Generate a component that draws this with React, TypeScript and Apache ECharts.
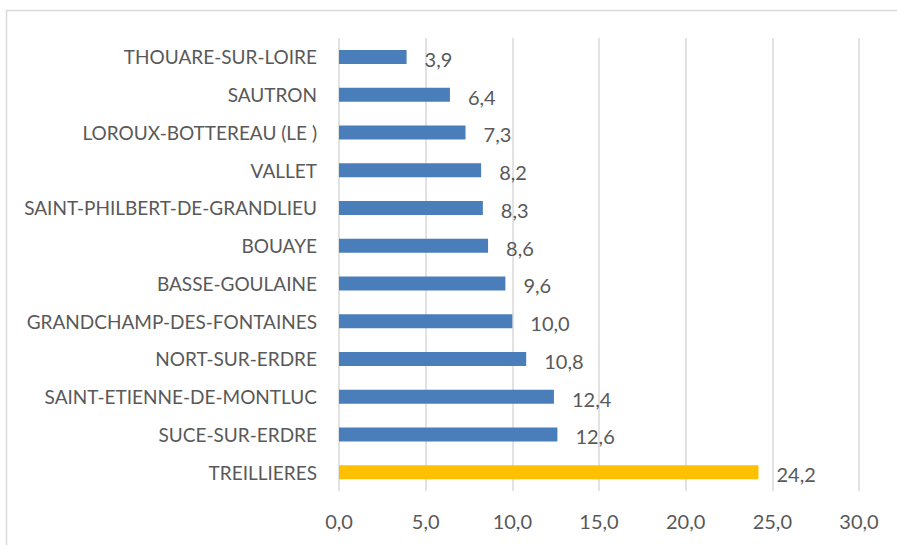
import React, { useEffect, useRef } from "react";
import * as echarts from "echarts";

const categories = [
  "TREILLIERES",
  "SUCE-SUR-ERDRE",
  "SAINT-ETIENNE-DE-MONTLUC",
  "NORT-SUR-ERDRE",
  "GRANDCHAMP-DES-FONTAINES",
  "BASSE-GOULAINE",
  "BOUAYE",
  "SAINT-PHILBERT-DE-GRANDLIEU",
  "VALLET",
  "LOROUX-BOTTEREAU (LE )",
  "SAUTRON",
  "THOUARE-SUR-LOIRE",
];
const values = [24.2, 12.6, 12.4, 10.8, 10.0, 9.6, 8.6, 8.3, 8.2, 7.3, 6.4, 3.9];
const highlighted = ["TREILLIERES"];

const BLUE = "#4A7EBB";
const YELLOW = "#FFC000";
const TEXT = "#595959";
const GRID = "#D9D9D9";
const FONT = "Lato";

const fmt = (v: number) => v.toFixed(1).replace(".", ",");

export default function App() {
  const ref = useRef<HTMLDivElement>(null);
  useEffect(() => {
    if (!ref.current) return;
    const chart = echarts.init(ref.current, null, { renderer: "svg" });
    chart.setOption({
      animation: false,
      backgroundColor: "#fff",
      graphic: [
        {
          type: "rect",
          shape: { x: 6.5, y: 10.5, width: 1000, height: 1000 },
          style: { fill: "none", stroke: GRID, lineWidth: 1.5 },
          silent: true,
        },
      ],
      grid: { left: 339, right: 38, top: 38, bottom: 54, containLabel: false },
      xAxis: {
        type: "value",
        min: 0,
        max: 30,
        interval: 5,
        axisLine: { show: false },
        axisTick: { show: false },
        splitLine: { show: true, lineStyle: { color: GRID, width: 1.5 } },
        axisLabel: {
          color: TEXT,
          fontFamily: FONT,
          fontSize: 20,
          margin: 20,
          formatter: (v: number) => fmt(v),
        },
      },
      yAxis: {
        type: "category",
        data: categories,
        axisLine: { show: false },
        axisTick: { show: false },
        axisLabel: { color: TEXT, fontFamily: FONT, fontSize: 19, margin: 22 },
      },
      series: [
        {
          type: "bar",
          barWidth: 14,
          data: values.map((v, i) => ({
            value: v,
            itemStyle: { color: highlighted.includes(categories[i]) ? YELLOW : BLUE },
          })),
          label: {
            show: true,
            position: "right",
            distance: 18,
            color: TEXT,
            fontFamily: FONT,
            fontSize: 20,
            offset: [0, 2],
            formatter: (p: any) => fmt(p.value),
          },
        },
      ],
    });
    return () => chart.dispose();
  }, []);
  return (
    <div
      ref={ref}
      style={{ position: "fixed", left: 0, top: 0, width: 897, height: 545 }}
    />
  );
}
